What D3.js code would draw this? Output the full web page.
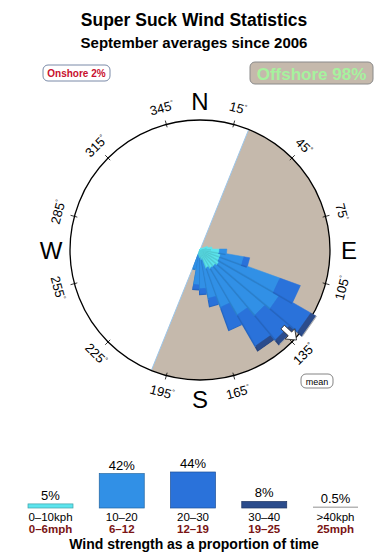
<!DOCTYPE html>
<html>
<head>
<meta charset="utf-8">
<script src="https://cdn.jsdelivr.net/npm/d3@7"></script>
<style>
  body { margin: 0; background: #fff; }
  svg { display: block; font-family: "Liberation Sans", Arial, Helvetica, sans-serif; }
</style>
</head>
<body>
<div id="chart"></div>
<script>
// direction bins (centre bearing, 10 degree wide) and share of time per speed class (%)
const dirBins   = [75, 85, 95, 105, 115, 125, 135, 145, 155, 165, 175, 185, 195];
const kph0_10   = [0.08, 0.19, 0.5, 0.6, 0.6, 0.7, 0.6, 0.6, 0.5, 0.13, 0.08, 0.05, 0.03];
const kph10_20  = [0, 0, 0.45, 2.0, 8.9, 10.4, 9.1, 6.9, 4.5, 3.15, 2.0, 1.65, 0.5];
const kph20_30  = [0, 0, 0, 0.75, 5.5, 10.4, 8.6, 8.9, 4.7, 1.1, 0.56, 0.4, 0];
const kph30_40  = [0, 0, 0, 0, 0, 2.1, 1.9, 1.5, 0, 0, 0, 0, 0];
const kph40plus = [0, 0, 0, 0, 0, 0.2, 0.1, 0, 0, 0, 0, 0, 0];

const offshoreFrom = 22, offshoreTo = 202;
const meanDir = 133;
const degreeTicks = [15, 45, 75, 105, 135, 165, 195, 225, 255, 285, 315, 345];
const cardinals = [["N", 0], ["E", 90], ["S", 180], ["W", 270]];

// legend
const speedClasses = ["0–10kph", "10–20", "20–30", "30–40", ">40kph"];
const mphLabels    = ["0–6mph", "6–12", "12–19", "19–25", "25mph"];
const speedShares  = [5, 42, 44, 8, 0.5];
const shareLabels  = ["5%", "42%", "44%", "8%", "0.5%"];
const speedColors  = ["#5ce5ee", "#3190e6", "#2a72da", "#2b4c8c", "#b5b5b5"];

const width = 390, height = 560;
const cx = 200, cy = 250, R = 130;
const rad = d => d * Math.PI / 180;

const svg = d3.select("#chart").append("svg")
  .attr("width", width)
  .attr("height", height);

// titles
svg.append("text")
  .attr("x", 194).attr("y", 26)
  .attr("text-anchor", "middle")
  .attr("font-size", 17.5).attr("font-weight", "bold")
  .text("Super Suck Wind Statistics");
svg.append("text")
  .attr("x", 194).attr("y", 48)
  .attr("text-anchor", "middle")
  .attr("font-size", 15).attr("font-weight", "bold")
  .text("September averages since 2006");

// onshore / offshore badges
svg.append("rect")
  .attr("x", 43).attr("y", 65).attr("width", 67).attr("height", 16).attr("rx", 5)
  .attr("fill", "#fff").attr("stroke", "#7a8aa8");
svg.append("text")
  .attr("x", 76.5).attr("y", 76.5)
  .attr("text-anchor", "middle")
  .attr("font-size", 10).attr("font-weight", "bold")
  .attr("fill", "#c8102e")
  .text("Onshore 2%");

svg.append("rect")
  .attr("x", 250).attr("y", 62).attr("width", 123).attr("height", 22).attr("rx", 5)
  .attr("fill", "#c5b9ac").attr("stroke", "#8a8a8a");
svg.append("text")
  .attr("x", 311.5).attr("y", 79.5)
  .attr("text-anchor", "middle")
  .attr("font-size", 17).attr("font-weight", "bold")
  .attr("fill", "#a6f29e")
  .text("Offshore 98%");

// compass
const compass = svg.append("g").attr("transform", `translate(${cx},${cy})`);

compass.append("circle").attr("r", R).attr("fill", "#fff");

compass.append("path")
  .attr("d", d3.arc()({ innerRadius: 0, outerRadius: R, startAngle: rad(offshoreFrom), endAngle: rad(offshoreTo) }))
  .attr("fill", "#c5b9ac");

compass.append("line")
  .attr("x1", R * Math.sin(rad(offshoreFrom))).attr("y1", -R * Math.cos(rad(offshoreFrom)))
  .attr("x2", R * Math.sin(rad(offshoreTo))).attr("y2", -R * Math.cos(rad(offshoreTo)))
  .attr("stroke", "#9cc6ea").attr("stroke-width", 1);

// rose
const rScale = d3.scaleSqrt().domain([0, 25]).range([0, 138]);
const layers = [kph0_10, kph10_20, kph20_30, kph30_40, kph40plus];
const rose = svg.append("g").attr("transform", `translate(${cx},${cy - 1})`);

const pt = (r, b) => [r * Math.sin(rad(b)), -r * Math.cos(rad(b))];
const wedge = (r0, r1, b0, b1) => {
  const p = [pt(r0, b0), pt(r1, b0), pt(r1, b1), pt(r0, b1)];
  return "M" + p.map(d => d.join(",")).join("L") + "Z";
};

const bins = dirBins.map((b, i) => {
  let cum = 0;
  const segs = layers.map((l, k) => {
    const s = { k, from: cum, to: cum + l[i] };
    cum += l[i];
    return s;
  }).filter(s => s.to > s.from);
  return { b, segs };
});

// draw from the southern bins back so each bin's shadow shows on its neighbour
bins.slice().reverse().forEach(bin => {
  const g = rose.append("g");
  g.selectAll("path.shadow")
    .data(bin.segs)
    .join("path")
    .attr("class", "shadow")
    .attr("transform", "translate(-1,1.5)")
    .attr("d", s => wedge(rScale(s.from), rScale(s.to), bin.b - 5, bin.b + 5))
    .attr("fill", s => d3.color(speedColors[s.k]).darker(0.35));
  g.selectAll("path.seg")
    .data(bin.segs)
    .join("path")
    .attr("class", "seg")
    .attr("d", s => wedge(rScale(s.from), rScale(s.to), bin.b - 5, bin.b + 5))
    .attr("fill", s => speedColors[s.k])
    .attr("stroke", s => speedColors[s.k])
    .attr("stroke-width", 0.5);
});

// mean arrow
const [mx, my] = pt(123, meanDir);
svg.append("path")
  .attr("transform", `translate(${cx + mx},${cy + my}) rotate(${meanDir})`)
  .attr("d", "M0,-9 L7,0 L2.5,0 L2.5,10 L-2.5,10 L-2.5,0 L-7,0 Z")
  .attr("fill", "#fff").attr("stroke", "#222").attr("stroke-width", 0.8);

// rim, ticks, labels
compass.append("circle").attr("r", R).attr("fill", "none").attr("stroke", "#000").attr("stroke-width", 1.3);

compass.selectAll("line.tick")
  .data(degreeTicks)
  .join("line")
  .attr("class", "tick")
  .attr("x1", d => pt(R - 3, d)[0]).attr("y1", d => pt(R - 3, d)[1])
  .attr("x2", d => pt(R + 4, d)[0]).attr("y2", d => pt(R + 4, d)[1])
  .attr("stroke", "#000").attr("stroke-width", 0.8);

const degLabel = compass.selectAll("g.deg")
  .data(degreeTicks)
  .join("g")
  .attr("class", "deg")
  .attr("transform", d => {
    const [x, y] = pt(147, d);
    const rot = (d > 90 && d < 270) ? d - 180 : (d > 180 ? d - 360 : d);
    return `translate(${x},${y}) rotate(${rot})`;
  });
degLabel.append("text")
  .attr("text-anchor", "middle")
  .attr("dy", "0.35em")
  .attr("font-size", 13)
  .text(d => d)
  .append("tspan")
  .attr("font-size", 7)
  .attr("dy", "-0.7em")
  .text("°");

compass.selectAll("text.card")
  .data(cardinals)
  .join("text")
  .attr("class", "card")
  .attr("x", d => pt(149, d[1])[0])
  .attr("y", d => pt(149, d[1])[1])
  .attr("dy", "0.36em")
  .attr("text-anchor", "middle")
  .attr("font-size", 24)
  .text(d => d[0]);

// mean badge
svg.append("rect")
  .attr("x", 301).attr("y", 374).attr("width", 32).attr("height", 14).attr("rx", 5)
  .attr("fill", "#fff").attr("stroke", "#666").attr("stroke-width", 0.8);
svg.append("text")
  .attr("x", 317).attr("y", 384.5)
  .attr("text-anchor", "middle")
  .attr("font-size", 9)
  .text("mean");

// speed legend
const baseY = 508;
const xLeg = d3.scalePoint().domain(speedClasses).range([50.5, 335.5]);
const hLeg = d3.scaleLinear().domain([0, 44]).range([0, 36]);
const barW = 45;

const leg = svg.append("g");
leg.selectAll("rect")
  .data(speedClasses)
  .join("rect")
  .attr("x", d => xLeg(d) - barW / 2)
  .attr("width", barW)
  .attr("y", (d, i) => baseY - Math.max(1.5, hLeg(speedShares[i])))
  .attr("height", (d, i) => Math.max(1.5, hLeg(speedShares[i])))
  .attr("fill", (d, i) => speedColors[i])
  .attr("stroke", (d, i) => i < 4 ? d3.color(speedColors[i]).darker(1) : "none")
  .attr("stroke-width", 0.7);

leg.selectAll("text.pct")
  .data(speedClasses)
  .join("text")
  .attr("class", "pct")
  .attr("x", d => xLeg(d))
  .attr("y", (d, i) => baseY - Math.max(1.5, hLeg(speedShares[i])) - 4)
  .attr("text-anchor", "middle")
  .attr("font-size", 13)
  .text((d, i) => shareLabels[i]);

leg.selectAll("text.kph")
  .data(speedClasses)
  .join("text")
  .attr("class", "kph")
  .attr("x", d => xLeg(d))
  .attr("y", 521)
  .attr("text-anchor", "middle")
  .attr("font-size", 11.5)
  .text(d => d);

leg.selectAll("text.mph")
  .data(speedClasses)
  .join("text")
  .attr("class", "mph")
  .attr("x", d => xLeg(d))
  .attr("y", 533)
  .attr("text-anchor", "middle")
  .attr("font-size", 11.5).attr("font-weight", "bold")
  .attr("fill", "#7a1414")
  .text((d, i) => mphLabels[i]);

svg.append("text")
  .attr("x", 194).attr("y", 549)
  .attr("text-anchor", "middle")
  .attr("font-size", 14).attr("font-weight", "bold")
  .text("Wind strength as a proportion of time");
</script>
</body>
</html>
